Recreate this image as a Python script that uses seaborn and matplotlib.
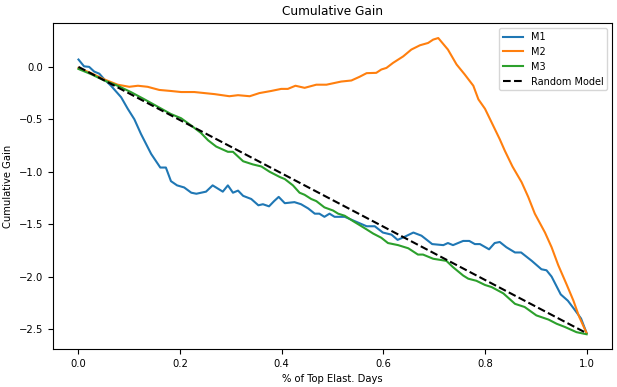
"""Cumulative gain curves for three models against a random baseline."""

import matplotlib

matplotlib.use("Agg")
import matplotlib.pyplot as plt
import seaborn as sns

# values
m1_x = [0.000, 0.011, 0.021, 0.031, 0.041, 0.051, 0.064, 0.084, 0.097, 0.110,
        0.123, 0.143, 0.161, 0.172, 0.182, 0.194, 0.208, 0.222, 0.232, 0.251,
        0.264, 0.284, 0.294, 0.304, 0.314, 0.324, 0.340, 0.354, 0.363, 0.375,
        0.385, 0.394, 0.406, 0.425, 0.438, 0.452, 0.465, 0.474, 0.484, 0.494,
        0.504, 0.524, 0.543, 0.567, 0.583, 0.599, 0.616, 0.628, 0.642, 0.659,
        0.675, 0.696, 0.718, 0.727, 0.737, 0.757, 0.769, 0.780, 0.790, 0.808,
        0.819, 0.829, 0.842, 0.859, 0.871, 0.892, 0.911, 0.921, 0.931, 0.949,
        0.963, 0.977, 0.989, 1.000]
m1_gain = [0.07, 0.005, 0.00, -0.045, -0.065, -0.12, -0.18, -0.29, -0.40, -0.50,
           -0.64, -0.83, -0.96, -0.96, -1.09, -1.13, -1.15, -1.20, -1.21, -1.19,
           -1.13, -1.19, -1.13, -1.20, -1.18, -1.23, -1.26, -1.32, -1.31, -1.33,
           -1.28, -1.24, -1.30, -1.29, -1.31, -1.35, -1.40, -1.40, -1.43, -1.40,
           -1.43, -1.43, -1.47, -1.52, -1.52, -1.58, -1.60, -1.65, -1.62, -1.58,
           -1.61, -1.69, -1.70, -1.68, -1.70, -1.66, -1.66, -1.69, -1.69, -1.74,
           -1.68, -1.67, -1.72, -1.77, -1.77, -1.85, -1.93, -1.94, -2.00, -2.17,
           -2.23, -2.32, -2.40, -2.54]

m2_x = [0.000, 0.025, 0.051, 0.077, 0.100, 0.117, 0.136, 0.159, 0.182, 0.202,
        0.228, 0.248, 0.268, 0.297, 0.314, 0.337, 0.356, 0.379, 0.399, 0.412,
        0.427, 0.445, 0.468, 0.488, 0.517, 0.537, 0.553, 0.567, 0.586, 0.596,
        0.606, 0.619, 0.639, 0.655, 0.672, 0.688, 0.698, 0.708, 0.727, 0.744,
        0.760, 0.777, 0.787, 0.800, 0.813, 0.829, 0.839, 0.854, 0.872, 0.885,
        0.898, 0.918, 0.931, 0.944, 0.961, 0.974, 0.985, 1.000]
m2_gain = [-0.01, -0.06, -0.12, -0.17, -0.19, -0.18, -0.19, -0.22, -0.23, -0.24,
           -0.24, -0.25, -0.26, -0.28, -0.27, -0.28, -0.25, -0.23, -0.21, -0.21,
           -0.18, -0.20, -0.17, -0.17, -0.14, -0.13, -0.095, -0.06, -0.057, -0.025,
           -0.01, 0.038, 0.10, 0.165, 0.206, 0.228, 0.26, 0.275, 0.165, 0.023,
           -0.072, -0.18, -0.31, -0.40, -0.53, -0.69, -0.80, -0.95, -1.10, -1.24,
           -1.40, -1.58, -1.72, -1.89, -2.08, -2.23, -2.38, -2.54]

m3_x = [0.000, 0.025, 0.051, 0.077, 0.103, 0.130, 0.156, 0.182, 0.202, 0.222,
        0.241, 0.255, 0.271, 0.294, 0.304, 0.324, 0.343, 0.360, 0.376, 0.396,
        0.406, 0.422, 0.435, 0.445, 0.458, 0.468, 0.484, 0.501, 0.511, 0.524,
        0.540, 0.557, 0.567, 0.580, 0.596, 0.609, 0.629, 0.649, 0.668, 0.678,
        0.698, 0.724, 0.737, 0.757, 0.767, 0.783, 0.800, 0.813, 0.836, 0.859,
        0.878, 0.901, 0.925, 0.941, 0.957, 0.980, 1.000]
m3_gain = [-0.02, -0.07, -0.13, -0.18, -0.24, -0.31, -0.38, -0.45, -0.49, -0.56,
           -0.63, -0.70, -0.76, -0.81, -0.81, -0.90, -0.93, -0.95, -1.00, -1.05,
           -1.07, -1.13, -1.20, -1.22, -1.26, -1.28, -1.34, -1.37, -1.40, -1.42,
           -1.47, -1.52, -1.55, -1.59, -1.63, -1.68, -1.70, -1.73, -1.79, -1.79,
           -1.83, -1.85, -1.91, -1.99, -2.02, -2.04, -2.08, -2.10, -2.16, -2.26,
           -2.29, -2.37, -2.41, -2.45, -2.48, -2.53, -2.55]

random_x = [0.0, 1.0]
random_gain = [0.0, -2.54]

models = [("M1", m1_x, m1_gain), ("M2", m2_x, m2_gain), ("M3", m3_x, m3_gain)]

fig, ax = plt.subplots(figsize=(6.17, 3.87), dpi=100)
fig.subplots_adjust(left=0.086, right=0.992, bottom=0.098, top=0.94)

for name, xs, ys in models:
    sns.lineplot(x=xs, y=ys, label=name, estimator=None, linewidth=1.5, ax=ax)
sns.lineplot(x=random_x, y=random_gain, label="Random Model", color="black",
             linestyle="--", linewidth=1.5, estimator=None, ax=ax)

ax.set_title("Cumulative Gain", fontsize=8.7)
ax.set_xlabel("% of Top Elast. Days", fontsize=7.2)
ax.set_ylabel("Cumulative Gain", fontsize=7.2)
ax.tick_params(labelsize=7.2)
ax.legend(loc="upper right", fontsize=7)

fig.savefig("out.png", dpi=100)
